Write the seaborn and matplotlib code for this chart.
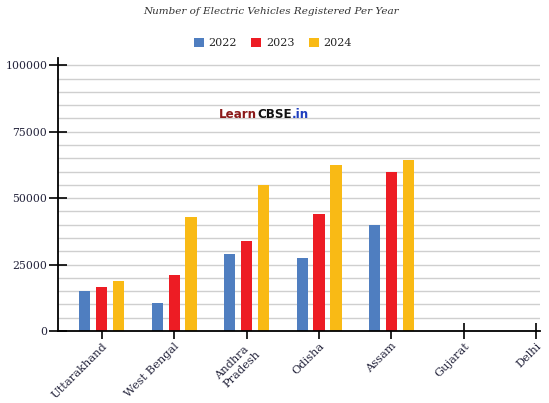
import matplotlib
matplotlib.use("Agg")
import matplotlib.pyplot as plt
from matplotlib.offsetbox import TextArea, HPacker, AnnotationBbox
import seaborn as sns
import pandas as pd

# chart data
states = ["Uttarakhand", "West Bengal", "Andhra\nPradesh", "Odisha", "Assam", "Gujarat", "Delhi"]
years = ["2022", "2023", "2024"]
ev_2022 = [15000, 10500, 29000, 27500, 40000]
ev_2023 = [16500, 21000, 34000, 44000, 60000]
ev_2024 = [19000, 43000, 55000, 62500, 64500]
y_ticks = [0, 25000, 50000, 75000, 100000]
colors = ["#4f7ec0", "#ed1c24", "#f9ba15"]

# long form table, Gujarat and Delhi have no bars
rows = []
for yr, vals in zip(years, [ev_2022, ev_2023, ev_2024]):
    for st, v in zip(states, vals):
        rows.append({"state": st, "year": yr, "count": v})
df = pd.DataFrame(rows)

sns.set_style("white")
plt.rcParams["font.family"] = ["DejaVu Serif"]

fig = plt.figure(figsize=(5.49, 4.03), dpi=100)
ax = fig.add_axes([58 / 549, 1 - 331 / 403, (540 - 58) / 549, (331 - 58) / 403])

sns.barplot(data=df, x="state", y="count", hue="year", order=states, hue_order=years,
            palette=colors, width=0.7, gap=0.34, linewidth=0, saturation=1, ax=ax)

ax.set_xlim(-0.603, 6.05)
ax.set_ylim(0, 102750)
ax.set_yticks(y_ticks)
ax.set_yticklabels([str(t) for t in y_ticks])
ax.set_xlabel("")
ax.set_ylabel("")

# light grid every 5000
for g in range(5000, 100001, 5000):
    ax.axhline(g, color="#cfcfcf", lw=1.0, zorder=0)

for side in ["top", "right"]:
    ax.spines[side].set_visible(False)
for side in ["left", "bottom"]:
    ax.spines[side].set_color("black")
    ax.spines[side].set_linewidth(1.3)

ax.tick_params(axis="y", left=True, direction="inout", length=13.5, width=1.2, color="black",
               labelsize=7.8, labelcolor="#22223a", pad=1)
ax.tick_params(axis="x", bottom=True, direction="inout", length=11, width=1.2, color="black",
               labelsize=8.2, labelcolor="#22223a", pad=1.5)
for lab in ax.get_xticklabels():
    lab.set_rotation(45)
    lab.set_ha("right")
    lab.set_multialignment("left")
    lab.set_rotation_mode("anchor")

sns.move_legend(ax, "center", bbox_to_anchor=(0.446, 1.055), ncol=3, frameon=False,
                title=None, fontsize=8, handlelength=0.9, handleheight=0.9,
                handletextpad=0.4, columnspacing=1.3)

fig.text(271 / 549, 1 - 12 / 403, "Number of Electric Vehicles Registered Per Year",
         ha="center", va="center", fontsize=7.5, style="italic", color="#333333")

# watermark
parts = [("Learn", "#8b1a1a"), ("CBSE", "#111111"), (".in", "#1f3fbf")]
areas = [TextArea(t, textprops=dict(color=c, fontsize=8.6, fontweight="bold", family="DejaVu Sans"))
         for t, c in parts]
box = HPacker(children=areas, pad=0, sep=0)
ab = AnnotationBbox(box, (264 / 549, 1 - 115 / 403), xycoords="figure fraction", frameon=False)
fig.add_artist(ab)

fig.savefig("out.png", dpi=100)
